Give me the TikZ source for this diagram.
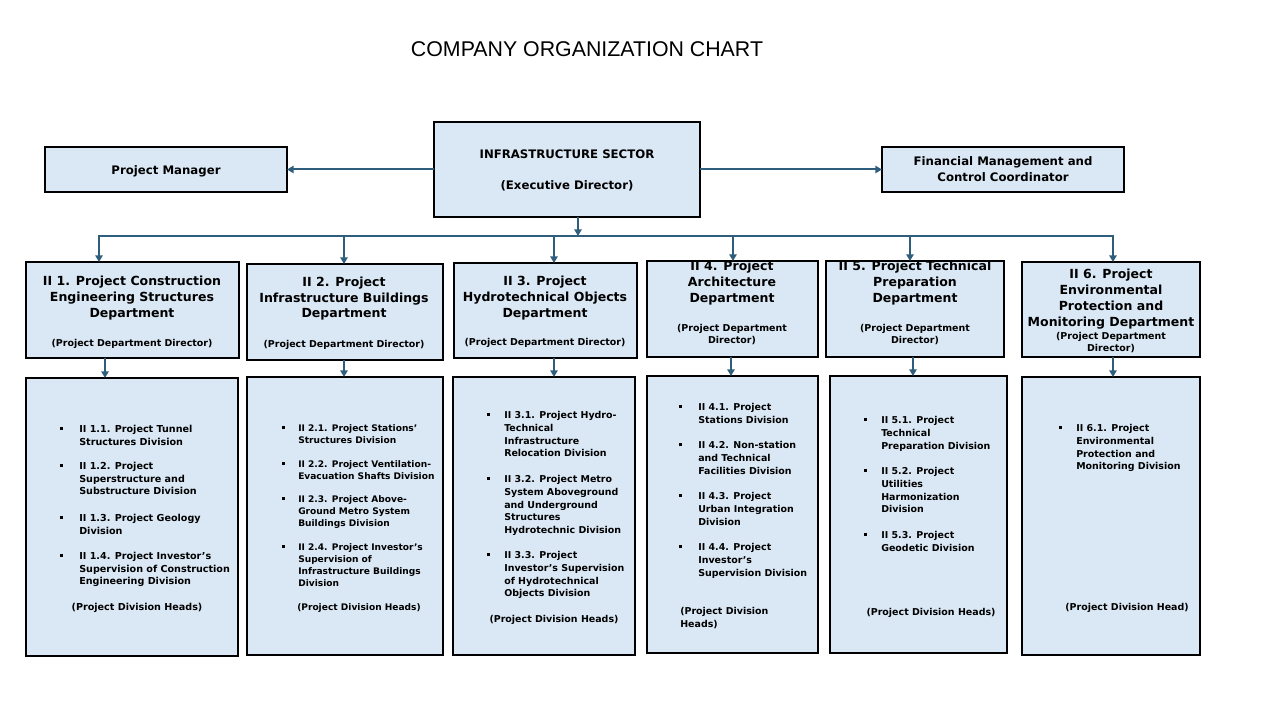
\documentclass[tikz,border=0pt]{standalone}
\usepackage{fontspec}
\setmainfont{DejaVu Sans}
\newfontfamily\titlefam{Liberation Sans}
\usetikzlibrary{arrows.meta}
\definecolor{boxfill}{RGB}{218,232,245}
\definecolor{conncol}{RGB}{47,94,125}
\newcommand\ftitle{\titlefam\fontsize{16}{19}\selectfont}
\newcommand\ftop{\fontsize{8.8}{12}\selectfont\bfseries}
\newcommand\fdt{\fontsize{9.4}{12}\selectfont\bfseries}
\newcommand\fdr{\fontsize{7.1}{9}\selectfont\bfseries}
\newcommand\fva{\fontsize{7.2}{9.5}\selectfont\bfseries}
\newcommand\fvb{\fontsize{6.8}{9}\selectfont\bfseries}
\newcommand\fvc{\fontsize{7.1}{9.6}\selectfont\bfseries}
\newcommand\fvd{\fontsize{7.1}{9.75}\selectfont\bfseries}
\newcommand\tl[2]{\begin{tabular}[t]{@{}#1@{}}#2\end{tabular}}
\newcommand\bx[5]{\node[box,anchor=north west,minimum width={(#4-#2)*0.75pt},minimum height={(#5-#3)*0.75pt}] (#1) at (#2,#3) {};}
\newcommand\blt{\raisebox{1.7pt}{\rule{2.2pt}{2.2pt}}}
\newcommand\itm[6]{\node[itm,font=#5] (#1) at (#2,#3) {\llap{\blt\hspace{#4}}\tl{l}{#6}};}
\tikzset{
  box/.style={draw=black,line width=1.6pt,fill=boxfill,inner sep=0pt,outer sep=0pt},
  conn/.style={draw=conncol,line width=1.5pt},
  arr/.style={conn,-{Triangle[length=5pt,width=5.5pt]}},
  tx/.style={inner sep=0pt,anchor=base},
  itm/.style={inner sep=0pt,anchor=base west},
  lft/.style={inner sep=0pt,anchor=base west},
}
\begin{document}
\begin{tikzpicture}[x=0.75pt,y=-0.75pt]
\useasboundingbox (0,0) rectangle (1280,720);
\fill[white] (0,0) rectangle (1280,720);

\node[font=\ftitle,inner sep=0pt] (title) at (587,49) {COMPANY ORGANIZATION CHART};

% boxes
\bx{pm}{45}{147}{287}{192}
\bx{infra}{434}{122}{700}{217}
\bx{fin}{882}{147}{1124}{192}
\bx{d1}{26}{262}{239}{358}
\bx{d2}{247}{264}{443}{360}
\bx{d3}{454}{263}{637}{358}
\bx{d4}{647}{261}{818}{357}
\bx{d5}{826}{261}{1004}{357}
\bx{d6}{1022}{262}{1200}{357}
\bx{v1}{26}{378}{238}{656}
\bx{v2}{247}{377}{443}{655}
\bx{v3}{453}{377}{635}{655}
\bx{v4}{647}{376}{818}{653}
\bx{v5}{830}{376}{1007}{653}
\bx{v6}{1022}{377}{1200}{655}

% top texts
\node[tx,font=\ftop] (tpm) at (166,174.5) {Project Manager};
\node[tx,font=\ftop] (tinfa) at (567,158.5) {INFRASTRUCTURE SECTOR};
\node[tx,font=\ftop] (tinfb) at (567,190) {(Executive Director)};
\node[tx,font=\ftop] (tfin) at (1003,166) {\tl{c}{Financial Management and\\Control Coordinator}};

% department texts
\node[tx,font=\fdt] (td1) at (132,285) {\tl{c}{II 1. Project Construction\\Engineering Structures\\Department}};
\node[tx,font=\fdr] (rd1) at (132,346.5) {(Project Department Director)};
\node[tx,font=\fdt] (td2) at (344,286) {\tl{c}{II 2. Project\\Infrastructure Buildings\\Department}};
\node[tx,font=\fdr] (rd2) at (344,347.5) {(Project Department Director)};
\node[tx,font=\fdt] (td3) at (545,285) {\tl{c}{II 3. Project\\Hydrotechnical Objects\\Department}};
\node[tx,font=\fdr] (rd3) at (545,345.5) {(Project Department Director)};
\node[tx,font=\fdt] (td4) at (732,270) {\tl{c}{II 4. Project\\Architecture\\Department}};
\node[tx,font=\fdr] (rd4) at (732,331.5) {\tl{c}{(Project Department\\Director)}};
\node[tx,font=\fdt] (td5) at (915,270) {\tl{c}{II 5. Project Technical\\Preparation\\Department}};
\node[tx,font=\fdr] (rd5) at (915,331.5) {\tl{c}{(Project Department\\Director)}};
\node[tx,font=\fdt] (td6) at (1111,278) {\tl{c}{II 6. Project\\Environmental\\Protection and\\Monitoring Department}};
\node[tx,font=\fdr] (rd6) at (1111,339.5) {\tl{c}{(Project Department\\Director)}};
\draw[line width=1.6pt] (d4.north west) -- (d4.north east);
\draw[line width=1.6pt] (d5.north west) -- (d5.north east);

% division texts
\itm{i11}{79}{432.5}{12.4pt}{\fva}{II 1.1. Project Tunnel\\Structures Division}
\itm{i12}{79}{469.5}{12.4pt}{\fva}{II 1.2. Project\\Superstructure and\\Substructure Division}
\itm{i13}{79}{521.5}{12.4pt}{\fva}{II 1.3. Project Geology\\Division}
\itm{i14}{79}{559.5}{12.4pt}{\fva}{II 1.4. Project Investor’s\\Supervision of Construction\\Engineering Division}
\node[tx,font=\fva] (h1) at (137,610.5) {(Project Division Heads)};

\itm{i21}{298}{431.5}{10.1pt}{\fvb}{II 2.1. Project Stations’\\Structures Division}
\itm{i22}{298}{467.5}{10.1pt}{\fvb}{II 2.2. Project Ventilation-\\Evacuation Shafts Division}
\itm{i23}{298}{502.5}{10.1pt}{\fvb}{II 2.3. Project Above-\\Ground Metro System\\Buildings Division}
\itm{i24}{298}{550.5}{10.1pt}{\fvb}{II 2.4. Project Investor’s\\Supervision of\\Infrastructure Buildings\\Division}
\node[tx,font=\fvb] (h2) at (359,610.5) {(Project Division Heads)};

\itm{i31}{504}{418.5}{10.9pt}{\fvc}{II 3.1. Project Hydro-\\Technical\\Infrastructure\\Relocation Division}
\itm{i32}{504}{482.5}{10.9pt}{\fvc}{II 3.2. Project Metro\\System Aboveground\\and Underground\\Structures\\Hydrotechnic Division}
\itm{i33}{504}{558.5}{10.9pt}{\fvc}{II 3.3. Project\\Investor’s Supervision\\of Hydrotechnical\\Objects Division}
\node[tx,font=\fvc] (h3) at (554,622.5) {(Project Division Heads)};

\itm{i41}{698}{410.5}{12.4pt}{\fvd}{II 4.1. Project\\Stations Division}
\itm{i42}{698}{448.5}{12.4pt}{\fvd}{II 4.2. Non-station\\and Technical\\Facilities Division}
\itm{i43}{698}{499.5}{12.4pt}{\fvd}{II 4.3. Project\\Urban Integration\\Division}
\itm{i44}{698}{550.5}{12.4pt}{\fvd}{II 4.4. Project\\Investor’s\\Supervision Division}
\node[lft,font=\fvd] (h4) at (680,614.5) {\tl{l}{(Project Division\\Heads)}};

\itm{i51}{881}{423.5}{10.9pt}{\fvc}{II 5.1. Project\\Technical\\Preparation Division}
\itm{i52}{881}{474.5}{10.9pt}{\fvc}{II 5.2. Project\\Utilities\\Harmonization\\Division}
\itm{i53}{881}{538.5}{10.9pt}{\fvc}{II 5.3. Project\\Geodetic Division}
\node[tx,font=\fvc] (h5) at (931,615.5) {(Project Division Heads)};

\itm{i61}{1076}{431.5}{10.9pt}{\fvc}{II 6.1. Project\\Environmental\\Protection and\\Monitoring Division}
\node[tx,font=\fvc] (h6) at (1127,610.5) {(Project Division Head)};

% connectors
\draw[arr] (infra.west) -- (pm.east);
\draw[arr] (infra.east) -- (fin.west);
\coordinate (bus0) at (578,236);
\draw[arr] (infra.south -| bus0) -- (bus0);
\coordinate (b1) at (99,236);
\coordinate (b2) at (344,236);
\coordinate (b3) at (554,236);
\coordinate (b4) at (733,236);
\coordinate (b5) at (910,236);
\coordinate (b6) at (1113,236);
\draw[conn,line cap=rect] (b1) -- (b6);
\draw[arr] (b1) -- (b1 |- d1.north);
\draw[arr] (b2) -- (b2 |- d2.north);
\draw[arr] (b3) -- (b3 |- d3.north);
\draw[arr] (b4) -- (b4 |- d4.north);
\draw[arr] (b5) -- (b5 |- d5.north);
\draw[arr] (b6) -- (b6 |- d6.north);
\coordinate (c1) at (105,368);
\coordinate (c2) at (344,368);
\coordinate (c3) at (554,368);
\coordinate (c4) at (731,368);
\coordinate (c5) at (913,368);
\coordinate (c6) at (1113,368);
\draw[arr] (c1 |- d1.south) -- (c1 |- v1.north);
\draw[arr] (c2 |- d2.south) -- (c2 |- v2.north);
\draw[arr] (c3 |- d3.south) -- (c3 |- v3.north);
\draw[arr] (c4 |- d4.south) -- (c4 |- v4.north);
\draw[arr] (c5 |- d5.south) -- (c5 |- v5.north);
\draw[arr] (c6 |- d6.south) -- (c6 |- v6.north);
\end{tikzpicture}
\end{document}
